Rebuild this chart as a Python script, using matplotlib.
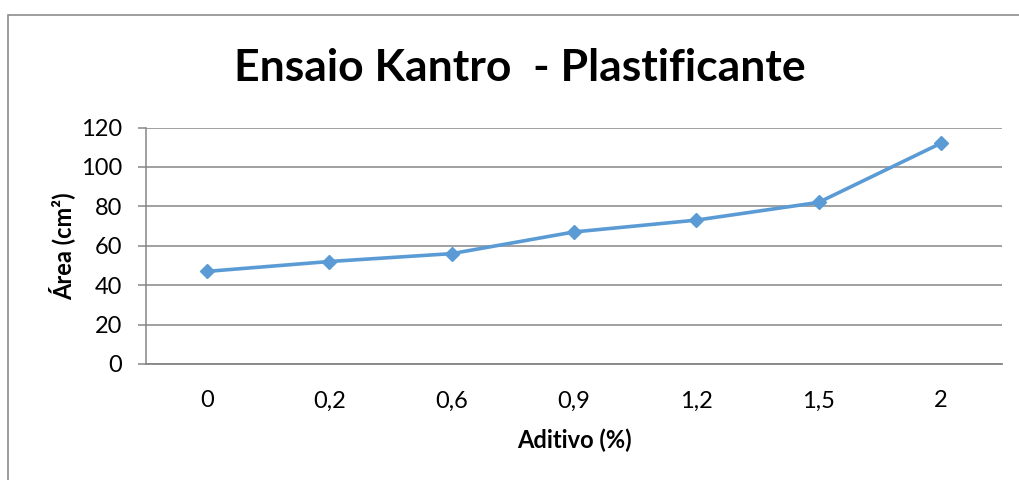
import matplotlib.pyplot as plt
from matplotlib.patches import Rectangle

plt.rcParams['font.family'] = ['Lato', 'DejaVu Sans']

aditivo = ['0', '0,2', '0,6', '0,9', '1,2', '1,5', '2']
area = [47, 52, 56, 67, 73, 82, 112]
y_ticks = [0, 20, 40, 60, 80, 100, 120]

fig = plt.figure(figsize=(10.19, 4.8), dpi=100)
fig.patches.append(Rectangle((8 / 1019, -0.1), 1.2, 1.1 - 15 / 480,
                             transform=fig.transFigure, fill=False,
                             edgecolor='#8c8c8c', linewidth=1.2))

ax = fig.add_axes([146 / 1019, 1 - 364 / 480, (1002 - 146) / 1019, (364 - 127.5) / 480])
x = list(range(len(aditivo)))
ax.plot(x, area, color='#5b9bd5', linewidth=2.6, marker='D', markersize=7.5,
        zorder=3)

ax.set_xlim(-0.5, len(aditivo) - 0.5)
ax.set_ylim(0, 120)
ax.set_yticks(y_ticks)
ax.set_xticks(x)
ax.set_xticklabels(aditivo)
ax.grid(axis='y', color='#868686', linewidth=1.1)
ax.set_axisbelow(True)

for s in ['top', 'right']:
    ax.spines[s].set_visible(False)
ax.spines['left'].set_color('#868686')
ax.spines['bottom'].set_color('#868686')
ax.spines['left'].set_linewidth(1.1)
ax.spines['bottom'].set_linewidth(1.3)
ax.tick_params(axis='y', length=6, color='#868686', width=1.1, labelsize=17, pad=11)
ax.tick_params(axis='x', length=0, labelsize=17, pad=19)

ax.set_xlabel('Aditivo (%)', fontsize=17, fontweight='bold', labelpad=12)
ax.set_ylabel('Área (cm²)', fontsize=17, fontweight='bold', labelpad=4)
fig.text(0.51, 1 - 68 / 480, 'Ensaio Kantro  - Plastificante', fontsize=32,
         fontweight='bold', ha='center', va='center')

fig.savefig('out.png', dpi=100)
